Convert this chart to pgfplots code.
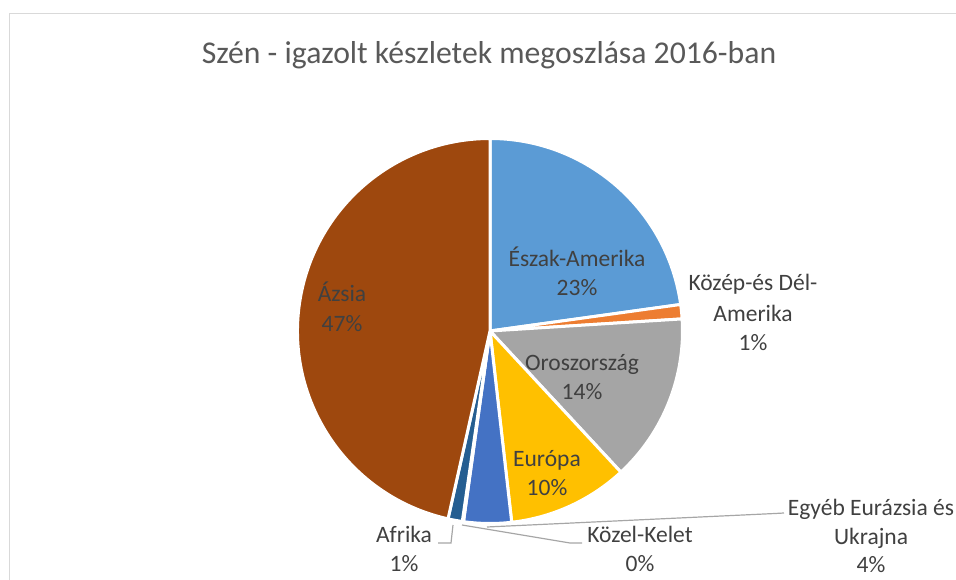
\documentclass[border=0pt]{standalone}
\usepackage{pgfplots}
\pgfplotsset{compat=1.18}
\usepackage{pgfplotstable}
\usepackage{fontspec}
\setmainfont{Carlito}
\definecolor{cNA}{HTML}{5B9BD5}
\definecolor{cSCA}{HTML}{ED7D31}
\definecolor{cRU}{HTML}{A5A5A5}
\definecolor{cEU}{HTML}{FFC000}
\definecolor{cOE}{HTML}{4472C4}
\definecolor{cME}{HTML}{70AD47}
\definecolor{cAF}{HTML}{255E91}
\definecolor{cAS}{HTML}{9E480E}
\definecolor{lbl}{HTML}{404040}
\definecolor{ttl}{HTML}{595959}
\definecolor{lead}{HTML}{A6A6A6}
\definecolor{frm}{HTML}{D9D9D9}
% share of proved coal reserves 2016 (%), clockwise from 12 o'clock
\pgfplotstableread{
share color
22.8 cNA
1.2 cSCA
14.1 cRU
10.1 cEU
4.0 cOE
0.1 cME
1.2 cAF
46.5 cAS
}\coaldata
\def\cx{490}
\def\cy{249}
\def\R{192.5}
\begin{document}
\begin{tikzpicture}
\path[use as bounding box] (0,0) rectangle (956pt,580pt);
\clip (0,0) rectangle (956pt,580pt);
\begin{axis}[anchor=origin, at={(0,0)}, x=1pt, y=1pt,
  xmin=0, xmax=956, ymin=0, ymax=580, hide axis, clip=false]
% frame
\draw[frm, line width=1pt] (axis cs:9.5,-20) -- (axis cs:9.5,566.5) -- (axis cs:990,566.5);
% slices
\pgfplotstablegetrowsof{\coaldata}
\pgfmathtruncatemacro\nrows{\pgfplotsretval-1}
\xdef\startang{90}
\foreach \i in {0,...,\nrows}{
  \pgfplotstablegetelem{\i}{share}\of\coaldata \let\v\pgfplotsretval
  \pgfplotstablegetelem{\i}{color}\of\coaldata \let\c\pgfplotsretval
  \pgfmathsetmacro\endang{\startang-3.6*\v}
  \edef\temp{\noexpand\fill[fill=\c, draw=white, line width=3pt, line join=round]
    (axis cs:\cx,\cy) -- ++(\startang:\R pt)
    arc[start angle=\startang, end angle=\endang, radius=\R pt] -- cycle;}
  \temp
  \xdef\startang{\endang}
}
% leader lines
\draw[lead, line width=1.2pt] (axis cs:453,55) -- (axis cs:451,37) -- (axis cs:438,37);
\draw[lead, line width=1.2pt] (axis cs:462,55) -- (axis cs:570,37) -- (axis cs:582,37);
\draw[lead, line width=1.2pt] (axis cs:487,53) -- (axis cs:775,66.5) -- (axis cs:784,67);
% title
\node[anchor=base, text=ttl, font=\fontsize{31.7}{38}\selectfont] at (axis cs:489,516) {Szén - igazolt készletek megoszlása 2016-ban};
% data labels
\tikzset{dl/.style={anchor=base, text=lbl, font=\fontsize{23.5}{28}\selectfont, inner sep=0pt}}
\node[dl] at (axis cs:342,278) {Ázsia};
\node[dl] at (axis cs:342,248) {47\%};
\node[dl] at (axis cs:577,313) {Észak-Amerika};
\node[dl] at (axis cs:577,284) {23\%};
\node[dl] at (axis cs:753,289) {Közép-és Dél-};
\node[dl] at (axis cs:753,258) {Amerika};
\node[dl] at (axis cs:753,229) {1\%};
\node[dl] at (axis cs:582,209) {Oroszország};
\node[dl] at (axis cs:582,180) {14\%};
\node[dl] at (axis cs:547,113) {Európa};
\node[dl] at (axis cs:547,84) {10\%};
\node[dl] at (axis cs:404,37) {Afrika};
\node[dl] at (axis cs:404,8) {1\%};
\node[dl] at (axis cs:640,37) {Közel-Kelet};
\node[dl] at (axis cs:640,8) {0\%};
\node[dl] at (axis cs:871,64) {Egyéb Eurázsia és};
\node[dl] at (axis cs:871,35) {Ukrajna};
\node[dl] at (axis cs:871,7) {4\%};
\end{axis}
\end{tikzpicture}
\end{document}
